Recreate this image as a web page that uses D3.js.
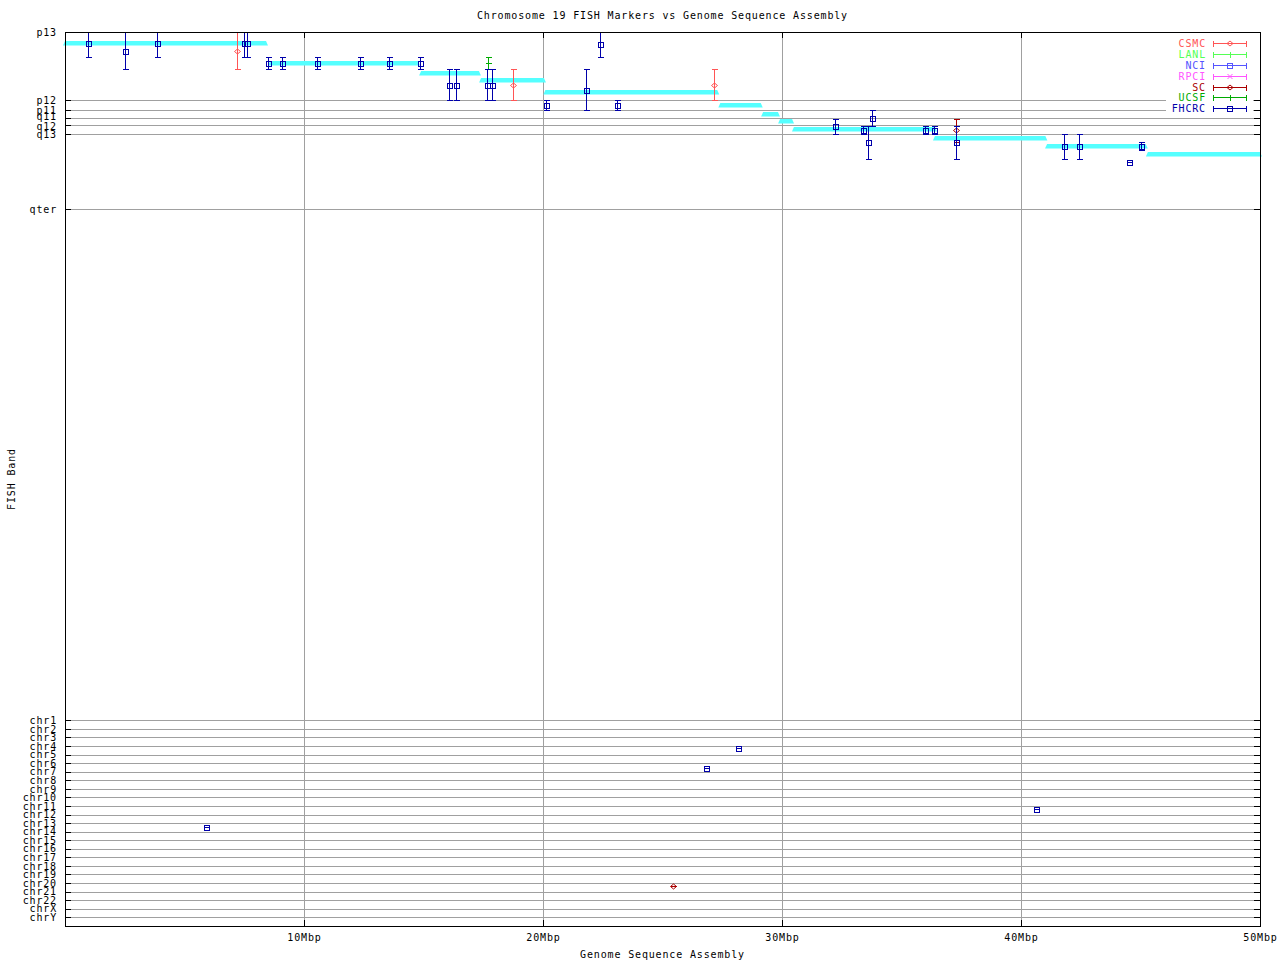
<!DOCTYPE html>
<html><head><meta charset="utf-8">
<script src="https://cdn.jsdelivr.net/npm/d3@7"></script>
<style>
html,body{margin:0;padding:0;background:#fff;}
svg text{font-family:"DejaVu Sans Mono",monospace;font-size:10px;letter-spacing:0.85px;}
</style></head>
<body>
<svg id="c" width="1280" height="960"></svg>
<script>
// ---------- data ----------
const titleText = "Chromosome 19 FISH Markers vs Genome Sequence Assembly";
const xTitle = "Genome Sequence Assembly";
const yTitle = "FISH Band";
const xTickVals = [10, 20, 30, 40, 50];
const xTickLabels = ["10Mbp", "20Mbp", "30Mbp", "40Mbp", "50Mbp"];
const bandNames = ["p13", "p12", "p11", "q11", "q12", "q13", "qter"];
const bandVals = [0, 7.64, 8.76, 9.65, 10.44, 11.44, 19.80];
const chrNames = ["chr1","chr2","chr3","chr4","chr5","chr6","chr7","chr8","chr9","chr10","chr11","chr12","chr13","chr14","chr15","chr16","chr17","chr18","chr19","chr20","chr21","chr22","chrX","chrY"];
const labNames = ["CSMC", "LANL", "NCI", "RPCI", "SC", "UCSF", "FHCRC"];
const labColors = ["#ff5555", "#55ff55", "#5555ff", "#ff55ff", "#aa0000", "#00aa00", "#0000aa"];
const labShapes = ["diamond", "plus", "square", "cross", "diamond", "plus", "square"];

// sequence-assembly contigs (cyan)
const contigStart = [0, 8.58, 14.90, 17.41, 20.10, 27.42, 29.21, 29.92, 30.50, 36.40, 41.09, 45.31];
const contigEnd   = [8.41, 14.77, 17.32, 20.04, 27.29, 29.11, 29.83, 30.42, 36.40, 41.02, 45.22, 50.0];
const contigBand  = [1.26, 3.47, 4.55, 5.37, 6.68, 8.17, 9.17, 9.96, 10.85, 11.82, 12.75, 13.65];

// FISH markers
const mLab  = ["FHCRC","FHCRC","FHCRC","CSMC","FHCRC","FHCRC","FHCRC","FHCRC","FHCRC","FHCRC","FHCRC","FHCRC","FHCRC","FHCRC","UCSF","FHCRC","FHCRC","CSMC","FHCRC","FHCRC","FHCRC","FHCRC","CSMC","FHCRC","FHCRC","FHCRC","FHCRC","FHCRC","FHCRC","SC","FHCRC","FHCRC","FHCRC","FHCRC","FHCRC","FHCRC","FHCRC","FHCRC","FHCRC","SC"];
const mMbp  = [0.97, 2.52, 3.86, 7.21, 7.50, 7.63, 8.51, 9.09, 10.56, 12.36, 13.57, 14.87, 16.08, 16.37, 17.71, 17.66, 17.88, 18.76, 20.14, 21.81, 22.40, 23.11, 27.17, 32.23, 33.40, 33.78, 33.61, 36.00, 36.37, 37.29, 37.29, 41.81, 42.43, 45.03, 44.53, 5.91, 28.14, 26.82, 40.63, 25.42];
const mBand = [1.26, 2.16, 1.26, 2.16, 1.26, 1.26, 3.50, 3.50, 3.50, 3.50, 3.50, 3.50, 5.96, 5.96, 3.50, 5.96, 5.96, 5.96, 8.20, 6.47, 1.38, 8.20, 5.96, 10.57, 10.96, 9.62, 12.36, 10.96, 10.96, 11.00, 12.36, 12.80, 12.80, 12.75, 14.57, 88.96, 80.12, 82.36, 86.95, 95.56];
const mLo   = [-0.30, 0, -0.30, 0, -0.30, -0.30, 2.83, 2.83, 2.83, 2.83, 2.83, 2.83, 4.17, 4.17, 2.83, 4.17, 4.17, 4.17, 7.64, 4.17, -0.07, 7.64, 4.17, 9.70, 10.48, 8.76, 10.48, 10.48, 10.48, 9.70, 10.48, 11.44, 11.44, 12.34, 14.57, 88.96, 80.12, 82.36, 86.95, 95.56];
const mHi   = [2.83, 4.17, 2.83, 4.17, 2.83, 2.83, 4.17, 4.17, 4.17, 4.17, 4.17, 4.17, 7.64, 7.64, 4.17, 7.64, 7.64, 7.64, 8.76, 8.76, 2.83, 8.76, 7.64, 11.44, 11.44, 10.48, 14.24, 11.44, 11.44, 12.30, 14.24, 14.24, 14.24, 13.17, 14.57, 88.96, 80.12, 82.36, 86.95, 95.56];

// ---------- layout ----------
const L = 65, R = 1260, T = 32, B = 926;
const svg = d3.select("#c");
const x = d3.scaleLinear().domain([0, 50]).range([L, R]);
const y = d3.scaleLinear().domain([0, 100]).range([T, B]);
const chrY = d3.scalePoint().domain(chrNames).range([y(76.99), y(99.03)]);
const colorOf = d3.scaleOrdinal().domain(labNames).range(labColors);
const shapeOf = d3.scaleOrdinal().domain(labNames).range(labShapes);
const px = v => Math.round(v) + 0.5;
const GRID = "#a0a0a0";

svg.append("defs").append("clipPath").attr("id", "plot")
  .append("rect").attr("x", L).attr("y", T).attr("width", R - L).attr("height", B - T);

// grid
const grid = svg.append("g").attr("shape-rendering", "crispEdges");
grid.selectAll("line.vx").data(xTickVals.filter(v => v < 50)).join("line")
  .attr("x1", d => px(x(d))).attr("x2", d => px(x(d)))
  .attr("y1", T).attr("y2", B).attr("stroke", GRID);
const hVals = bandVals.map(v => y(v)).slice(1).concat(chrNames.map(c => chrY(c)));
grid.selectAll("line.hy").data(hVals).join("line")
  .attr("x1", L).attr("x2", R)
  .attr("y1", d => px(d)).attr("y2", d => px(d)).attr("stroke", GRID);

// contigs
const cg = svg.append("g");
contigStart.forEach((s, i) => {
  const x0 = x(s) - 2, x1 = x(contigEnd[i]) + 2, yc = Math.round(y(contigBand[i]));
  cg.append("path")
    .attr("d", `M${x0},${yc + 2.5}L${x0 + 2},${yc - 2}L${x1 - 2},${yc - 2}L${x1},${yc + 2.5}Z`)
    .attr("fill", "#55ffff");
});

// markers
function drawMarker(g, shape, cx, cy, col) {
  if (shape === "square") {
    g.append("rect").attr("x", cx - 2.5).attr("y", cy - 2.5).attr("width", 5).attr("height", 5)
      .attr("fill", "none").attr("stroke", col).attr("shape-rendering", "crispEdges");
  } else if (shape === "diamond") {
    g.append("path").attr("d", `M${cx - 3},${cy}L${cx},${cy - 2.5}L${cx + 3},${cy}L${cx},${cy + 2.5}Z`)
      .attr("fill", "none").attr("stroke", col);
  } else if (shape === "plus") {
    g.append("path").attr("d", `M${cx - 3},${cy}H${cx + 3}M${cx},${cy - 3}V${cy + 3}`)
      .attr("stroke", col).attr("shape-rendering", "crispEdges");
  } else if (shape === "cross") {
    g.append("path").attr("d", `M${cx - 2.5},${cy - 2.5}L${cx + 2.5},${cy + 2.5}M${cx - 2.5},${cy + 2.5}L${cx + 2.5},${cy - 2.5}`)
      .attr("stroke", col);
  }
}
const mg = svg.append("g").attr("clip-path", "url(#plot)");
mLab.forEach((lab, i) => {
  const col = colorOf(lab);
  const cx = px(x(mMbp[i]));
  const yc = px(y(mBand[i])), y0 = px(y(mLo[i])), y1 = px(y(mHi[i]));
  const g = mg.append("g").attr("stroke-width", 1);
  g.append("path")
    .attr("d", `M${cx},${y0}V${y1}M${cx - 3},${y0}H${cx + 3}M${cx - 3},${y1}H${cx + 3}`)
    .attr("stroke", col).attr("fill", "none").attr("shape-rendering", "crispEdges");
  drawMarker(g, shapeOf(lab), cx, yc, col);
});

// frame
svg.append("rect").attr("x", L + 0.5).attr("y", T + 0.5).attr("width", R - L).attr("height", B - T)
  .attr("fill", "none").attr("stroke", "#000").attr("shape-rendering", "crispEdges");

// legend
const lg = svg.append("g");
lg.append("rect").attr("x", 1166).attr("y", 35).attr("width", 87).attr("height", 78).attr("fill", "#fff");
labNames.forEach((lab, i) => {
  const ly = Math.round(42.7 + i * 10.95) + 0.5;
  const col = labColors[i];
  lg.append("text").attr("x", 1206).attr("y", ly).attr("dy", "0.35em").attr("text-anchor", "end")
    .attr("fill", col).text(lab);
  lg.append("path").attr("d", `M1213.5,${ly}H1246.5M1213.5,${ly - 3}V${ly + 3}M1246.5,${ly - 3}V${ly + 3}`)
    .attr("stroke", col).attr("shape-rendering", "crispEdges");
  drawMarker(lg, labShapes[i], 1230, ly, col);
});

// axes
function styleAxis(g) {
  g.select(".domain").remove();
  g.selectAll(".tick line").attr("stroke", "#000").attr("shape-rendering", "crispEdges");
  g.selectAll("text").attr("fill", "#000").style("font-family", "DejaVu Sans Mono, monospace").style("font-size", "10px");
}
svg.append("g").attr("transform", `translate(0,${B})`)
  .call(d3.axisBottom(x).tickValues(xTickVals).tickFormat((d, i) => xTickLabels[i]).tickSize(-6).tickPadding(8))
  .call(styleAxis);
svg.append("g").attr("transform", `translate(0,${T})`)
  .call(d3.axisTop(x).tickValues(xTickVals).tickFormat("").tickSize(-6))
  .call(styleAxis);
const bandAxis = svg.append("g").attr("transform", `translate(${L},0)`)
  .call(d3.axisLeft(y).tickValues(bandVals).tickFormat((d, i) => bandNames[i]).tickSize(-6).tickPadding(8))
  .call(styleAxis);
// nudge the tightly packed q11 / q12 labels apart slightly
bandAxis.selectAll(".tick text").attr("y", (d, i) => i === 3 ? -1.5 : (i === 4 ? 1 : 0));
svg.append("g").attr("transform", `translate(${L},0)`)
  .call(d3.axisLeft(chrY).tickSize(-6).tickPadding(8))
  .call(styleAxis);
svg.append("g").attr("transform", `translate(${R},0)`)
  .call(d3.axisRight(y).tickValues(bandVals).tickFormat("").tickSize(-6))
  .call(styleAxis);
svg.append("g").attr("transform", `translate(${R},0)`)
  .call(d3.axisRight(chrY).tickFormat("").tickSize(-6))
  .call(styleAxis);

// titles
svg.append("text").attr("x", (L + R) / 2).attr("y", 15).attr("dy", "0.35em").attr("text-anchor", "middle").text(titleText);
svg.append("text").attr("x", (L + R) / 2).attr("y", 954).attr("dy", "0.35em").attr("text-anchor", "middle").text(xTitle);
svg.append("text").attr("transform", "translate(11,479) rotate(-90)").attr("dy", "0.35em").attr("text-anchor", "middle").text(yTitle);
</script>
</body></html>
